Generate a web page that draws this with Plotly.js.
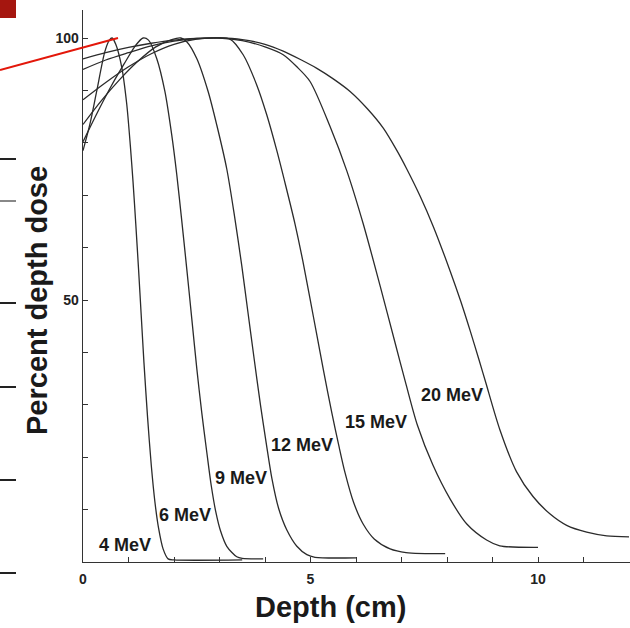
<!DOCTYPE html>
<html>
<head>
<meta charset="utf-8">
<script src="https://cdn.plot.ly/plotly-3.0.1.min.js"></script>
<style>html,body{margin:0;padding:0;background:#fff;}#chart{width:630px;height:628px;}</style>
</head>
<body>
<div id="chart"></div>
<script>
// Energies (labels)
const energies = ['4 MeV', '6 MeV', '9 MeV', '12 MeV', '15 MeV', '20 MeV'];

// Depth (cm) and percent depth dose for each energy
const depth4 = [0, 0.15, 0.3, 0.48, 0.58, 0.64, 0.72, 0.85, 0.96, 1.04, 1.1, 1.16, 1.22, 1.28, 1.34, 1.42, 1.5, 1.58, 1.66, 1.76, 1.87, 2.0, 3.5];
const dose4  = [78.5, 83.5, 89.8, 97.4, 99.6, 100, 98.8, 94.5, 87.5, 79.5, 72.5, 64.5, 56, 47, 38, 27.5, 18.5, 11.5, 6.5, 2.5, 0.6, 0.4, 0.4];

const depth6 = [0, 0.3, 0.6, 0.9, 1.15, 1.32, 1.44, 1.62, 1.80, 1.95, 2.06, 2.16, 2.28, 2.39, 2.5, 2.61, 2.72, 2.82, 2.92, 3.02, 3.16, 3.38, 3.5, 3.96];
const dose6  = [80.2, 85.5, 90.5, 95, 98.5, 100, 99.6, 96.1, 89.8, 81.5, 74, 66, 56, 46.5, 37, 28.5, 21, 14.5, 9.5, 6, 3, 1.0, 0.7, 0.6];

const depth9 = [0, 0.4, 0.8, 1.2, 1.6, 1.95, 2.15, 2.28, 2.50, 2.75, 2.94, 3.16, 3.33, 3.49, 3.62, 3.75, 3.9, 4.03, 4.15, 4.3, 4.48, 4.7, 4.92, 5.1, 6.0];
const dose9  = [83.5, 88, 92, 95.5, 98.3, 99.7, 100, 99.3, 96.1, 89.8, 83.4, 75, 66, 56.5, 48, 39.5, 30, 22.5, 16, 10.2, 6.1, 3, 1.4, 0.9, 0.8];

const depth12 = [0, 0.5, 1.0, 1.5, 2.0, 2.5, 2.9, 3.23, 3.52, 3.82, 4.04, 4.26, 4.45, 4.66, 4.83, 4.99, 5.14, 5.28, 5.47, 5.62, 5.76, 5.95, 6.16, 6.4, 6.75, 7.1, 7.96];
const dose12  = [88.2, 91.5, 94.5, 97, 98.8, 99.8, 100, 99.8, 96.8, 91.0, 85.3, 78.5, 72, 64.5, 57.5, 50.2, 43.3, 36.8, 28.4, 22.3, 17, 11.3, 7.2, 4.4, 2.5, 1.8, 1.6];

const depth15 = [0, 0.5, 1.0, 1.5, 2.0, 2.5, 3.0, 3.5, 4.0, 4.4, 4.7, 4.99, 5.43, 5.80, 6.16, 6.53, 6.86, 7.1, 7.35, 7.69, 8.07, 8.43, 8.87, 9.16, 10.0];
const dose15  = [94, 95.8, 97.2, 98.5, 99.4, 99.9, 100, 99.5, 98.3, 96.8, 94.5, 91.7, 83.1, 74.6, 64.5, 52.7, 41.8, 33.9, 26.1, 18.5, 12, 7.3, 4.2, 3.1, 2.8];

const depth20 = [0, 0.5, 1.0, 1.5, 2.0, 2.5, 3.0, 3.5, 4.0, 4.4, 4.8, 5.14, 5.5, 5.87, 6.25, 6.60, 6.9, 7.11, 7.41, 7.7, 8.07, 8.3, 8.51, 8.7, 8.85, 9.16, 9.53, 9.89, 10.26, 10.63, 11.07, 11.51, 12.0];
const dose20  = [96, 97.2, 98.2, 99, 99.6, 99.9, 100, 99.7, 98.8, 97.5, 95.8, 94.2, 92.2, 89.8, 86.5, 82.8, 78.5, 75.1, 69.8, 64, 55.5, 49.8, 44.1, 38.7, 34.3, 25.3, 17.2, 12.5, 9.2, 7.0, 5.7, 5.0, 4.8];

// Curve label anchor points (depth, dose)
const labelDepth = [0.92, 2.24, 3.47, 4.81, 6.44, 8.11];
const labelDose  = [3.2, 9.0, 16.0, 22.3, 26.7, 31.9];

// Axis ticks
const xTickVals = [0,1,2,3,4,5,6,7,8,9,10,11,12];
const xTickText = ['0','','','','','5','','','','','10','',''];
const yTickVals = [0,10,20,30,40,50,60,70,80,90,100];
const yTickText = ['','','','','','50','','','','','100'];

const depths = [depth4, depth6, depth9, depth12, depth15, depth20];
const doses  = [dose4, dose6, dose9, dose12, dose15, dose20];

const traces = energies.map((name, i) => ({
  x: depths[i], y: doses[i], name: name, type: 'scatter', mode: 'lines',
  line: {color: '#2b2b2b', width: 1.3, shape: 'spline', smoothing: 0.8},
  hoverinfo: 'x+y+name'
}));

const labelFont = {family: 'Liberation Sans, Arial, sans-serif', size: 18, color: '#1a1a1a', weight: 'bold'};
const annotations = energies.map((name, i) => ({
  x: labelDepth[i], y: labelDose[i], xref: 'x', yref: 'y', text: name,
  showarrow: false, font: labelFont, xanchor: 'center', yanchor: 'middle'
}));

// Axis titles placed as annotations to match the original placement
annotations.push({
  text: 'Depth (cm)', xref: 'paper', yref: 'paper', x: (330 - 83) / 547, y: (562 - 607) / 552,
  showarrow: false, xanchor: 'center', yanchor: 'middle',
  font: {family: 'Liberation Sans, Arial, sans-serif', size: 29, color: '#1a1a1a', weight: 'bold'}
});
annotations.push({
  text: 'Percent depth dose', xref: 'paper', yref: 'paper', x: (37 - 83) / 547, y: (562 - 301) / 552,
  showarrow: false, xanchor: 'center', yanchor: 'middle', textangle: -90,
  font: {family: 'Liberation Sans, Arial, sans-serif', size: 29, color: '#1a1a1a', weight: 'bold'}
});

// Helpers to convert page pixels to paper coordinates (decorative slide remnants)
const px = v => (v - 83) / 547;
const py = v => (562 - v) / 552;
const leftBars = [159, 201, 303, 387, 480, 573];
const shapes = leftBars.map((yy, i) => ({
  type: 'line', xref: 'paper', yref: 'paper', x0: px(0), x1: px(16), y0: py(yy), y1: py(yy),
  line: {color: i === 1 ? '#888' : '#222', width: 2}
}));
shapes.push({type: 'rect', xref: 'paper', yref: 'paper', x0: px(0), x1: px(16), y0: py(0), y1: py(18),
  fillcolor: '#a5160f', line: {width: 0}});
shapes.push({type: 'line', xref: 'paper', yref: 'paper', x0: px(0), y0: py(70), x1: px(118), y1: py(38),
  line: {color: '#e3170a', width: 2}});

const tickFont = {family: 'Liberation Sans, Arial, sans-serif', size: 14, color: '#222', weight: 'bold'};

const layout = {
  width: 630, height: 628, autosize: false,
  margin: {l: 83, r: 0, t: 10, b: 66, pad: 0},
  paper_bgcolor: '#ffffff', plot_bgcolor: '#ffffff',
  showlegend: false,
  xaxis: {
    range: [0, 547 / 45.5], showgrid: false, zeroline: false,
    showline: true, linecolor: '#333', linewidth: 1.3,
    ticks: 'inside', ticklen: 5, tickwidth: 1, tickcolor: '#333',
    tickvals: xTickVals, ticktext: xTickText, tickfont: tickFont, ticklabelstandoff: 4
  },
  yaxis: {
    range: [0, 552 / 5.24], showgrid: false, zeroline: false,
    showline: true, linecolor: '#333', linewidth: 1.3,
    ticks: 'inside', ticklen: 5, tickwidth: 1, tickcolor: '#333',
    tickvals: yTickVals, ticktext: yTickText, tickfont: tickFont
  },
  annotations: annotations,
  shapes: shapes
};

Plotly.newPlot('chart', traces, layout, {displayModeBar: false, staticPlot: true});
</script>
</body>
</html>
